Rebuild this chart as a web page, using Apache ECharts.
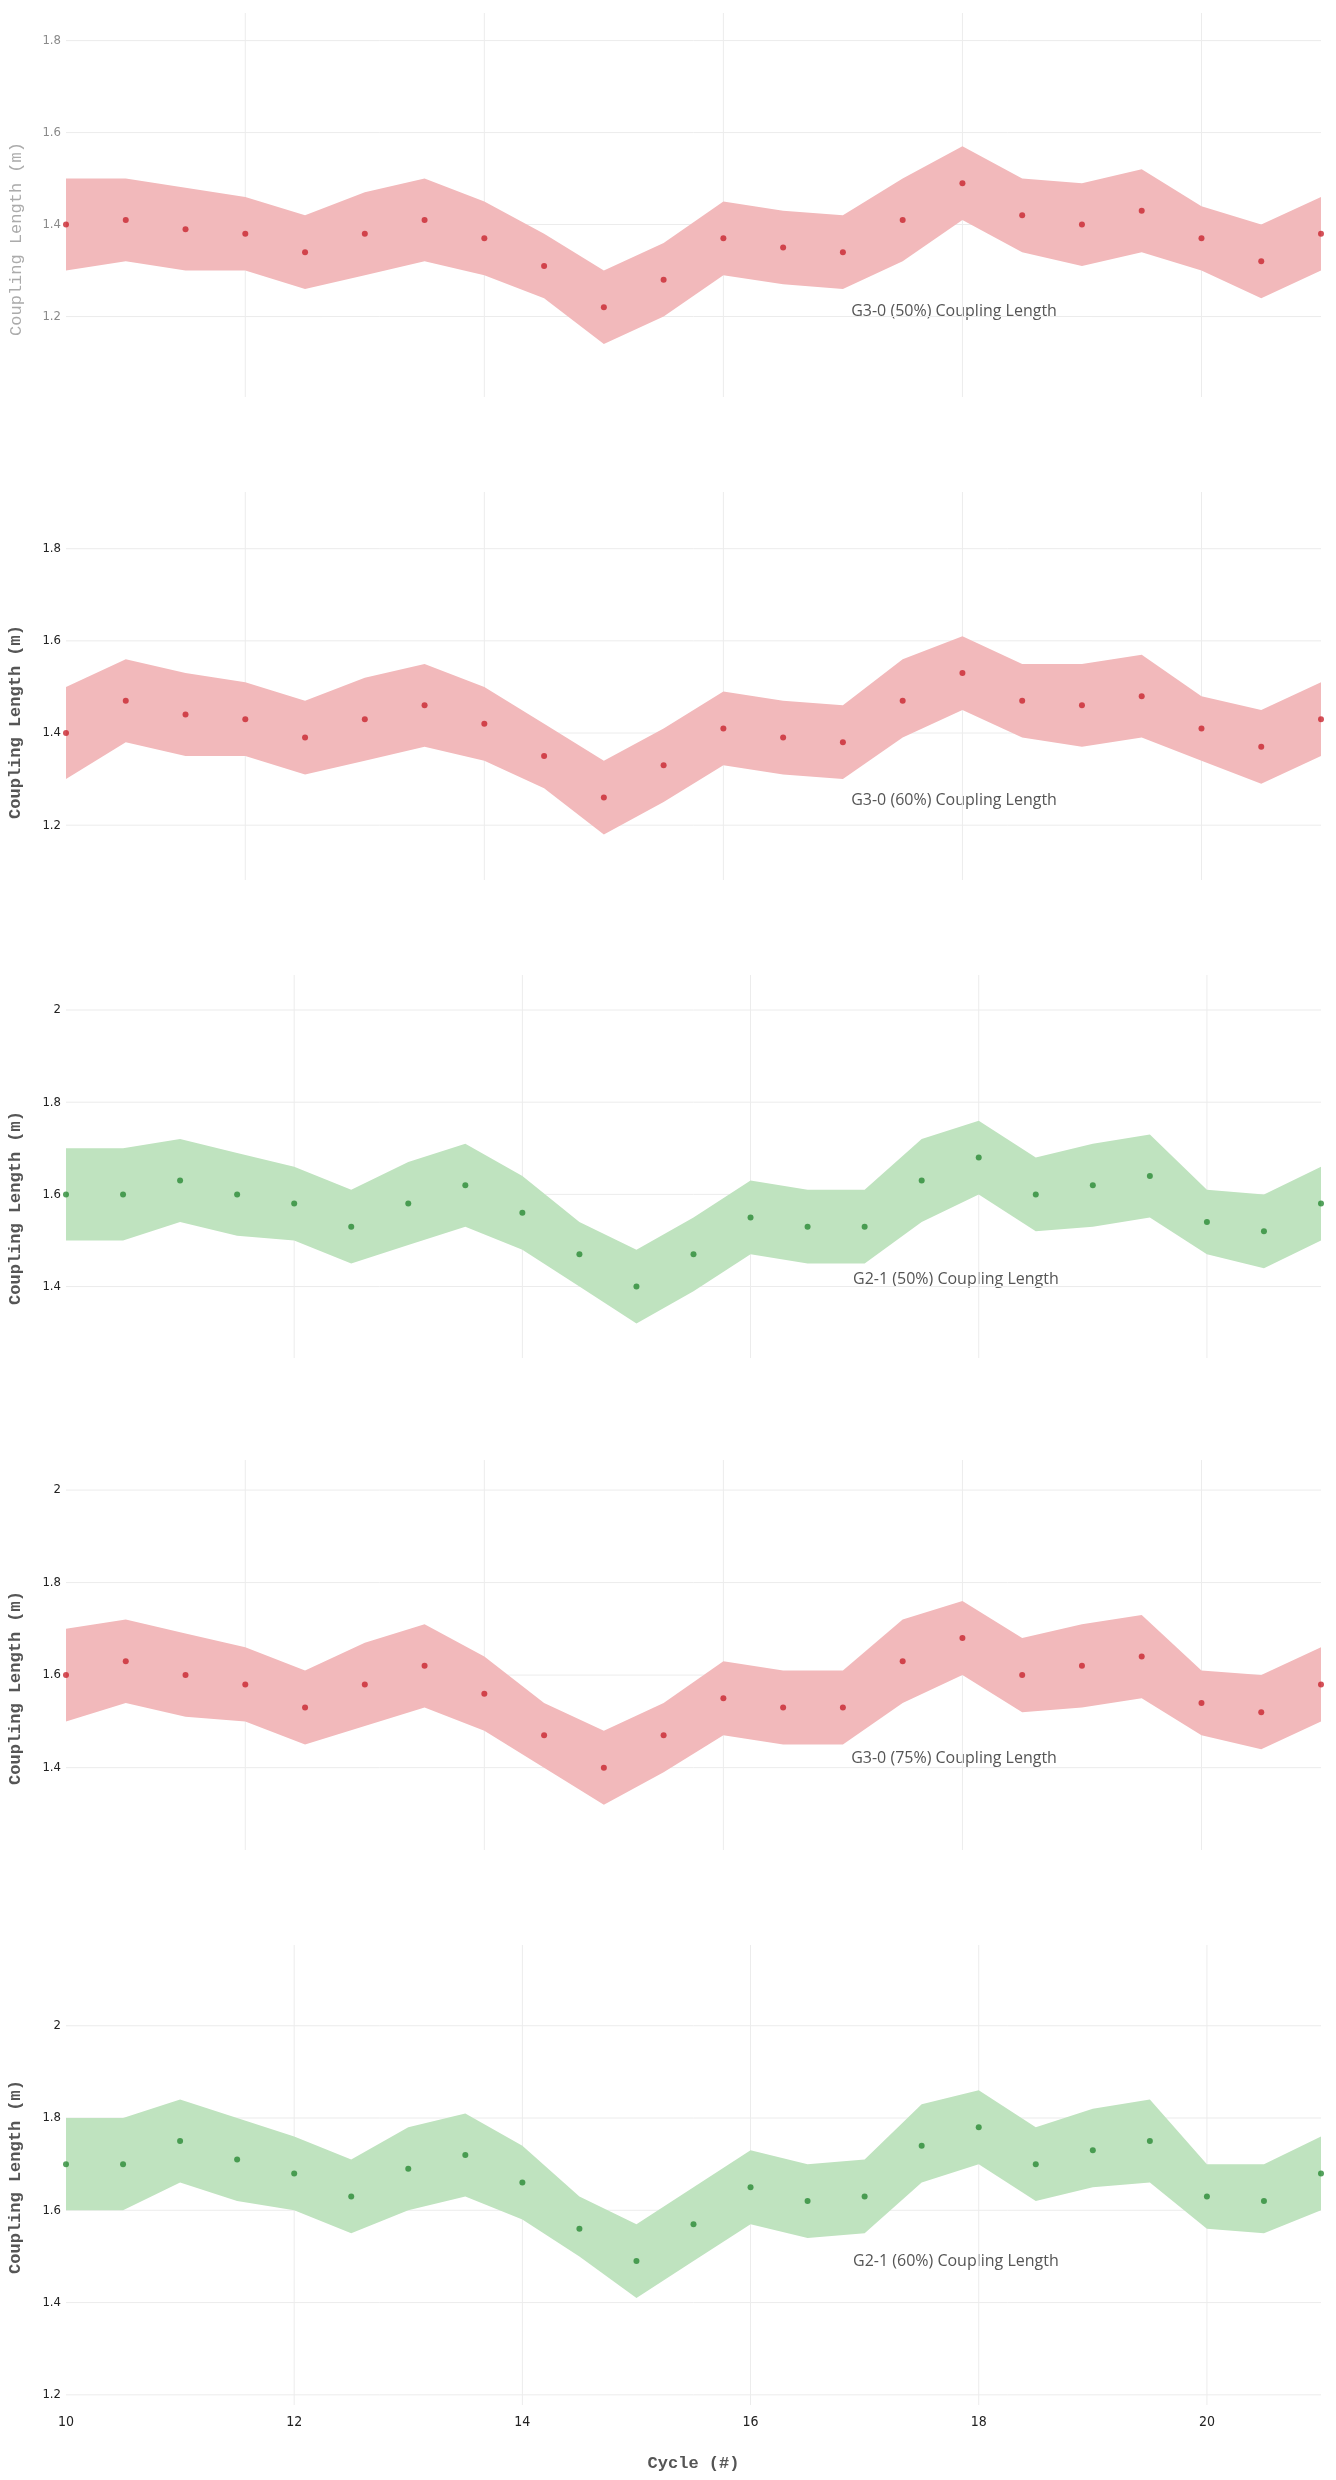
<!DOCTYPE html>
<html><head><meta charset="utf-8">
<script src="https://cdn.jsdelivr.net/npm/echarts@6/dist/echarts.min.js"></script>
<style>html,body{margin:0;padding:0;background:#fff}#c{width:1336px;height:2480px}</style>
</head><body><div id="c"></div><script>
// ---- DATA ----
const xRed = [10.5,11,11.5,12,12.5,13,13.5,14,14.5,15,15.5,16,16.5,17,17.5,18,18.5,19,19.5,20,20.5,21];
const xGreen = [10,10.5,11,11.5,12,12.5,13,13.5,14,14.5,15,15.5,16,16.5,17,17.5,18,18.5,19,19.5,20,20.5,21];

const g30_50_mean  = [1.40,1.41,1.39,1.38,1.34,1.38,1.41,1.37,1.31,1.22,1.28,1.37,1.35,1.34,1.41,1.49,1.42,1.40,1.43,1.37,1.32,1.38];
const g30_50_upper = [1.50,1.50,1.48,1.46,1.42,1.47,1.50,1.45,1.38,1.30,1.36,1.45,1.43,1.42,1.50,1.57,1.50,1.49,1.52,1.44,1.40,1.46];
const g30_50_lower = [1.30,1.32,1.30,1.30,1.26,1.29,1.32,1.29,1.24,1.14,1.20,1.29,1.27,1.26,1.32,1.41,1.34,1.31,1.34,1.30,1.24,1.30];

const g30_60_mean  = [1.40,1.47,1.44,1.43,1.39,1.43,1.46,1.42,1.35,1.26,1.33,1.41,1.39,1.38,1.47,1.53,1.47,1.46,1.48,1.41,1.37,1.43];
const g30_60_upper = [1.50,1.56,1.53,1.51,1.47,1.52,1.55,1.50,1.42,1.34,1.41,1.49,1.47,1.46,1.56,1.61,1.55,1.55,1.57,1.48,1.45,1.51];
const g30_60_lower = [1.30,1.38,1.35,1.35,1.31,1.34,1.37,1.34,1.28,1.18,1.25,1.33,1.31,1.30,1.39,1.45,1.39,1.37,1.39,1.34,1.29,1.35];

const g21_50_mean  = [1.60,1.60,1.63,1.60,1.58,1.53,1.58,1.62,1.56,1.47,1.40,1.47,1.55,1.53,1.53,1.63,1.68,1.60,1.62,1.64,1.54,1.52,1.58];
const g21_50_upper = [1.70,1.70,1.72,1.69,1.66,1.61,1.67,1.71,1.64,1.54,1.48,1.55,1.63,1.61,1.61,1.72,1.76,1.68,1.71,1.73,1.61,1.60,1.66];
const g21_50_lower = [1.50,1.50,1.54,1.51,1.50,1.45,1.49,1.53,1.48,1.40,1.32,1.39,1.47,1.45,1.45,1.54,1.60,1.52,1.53,1.55,1.47,1.44,1.50];

const g30_75_mean  = [1.60,1.63,1.60,1.58,1.53,1.58,1.62,1.56,1.47,1.40,1.47,1.55,1.53,1.53,1.63,1.68,1.60,1.62,1.64,1.54,1.52,1.58];
const g30_75_upper = [1.70,1.72,1.69,1.66,1.61,1.67,1.71,1.64,1.54,1.48,1.54,1.63,1.61,1.61,1.72,1.76,1.68,1.71,1.73,1.61,1.60,1.66];
const g30_75_lower = [1.50,1.54,1.51,1.50,1.45,1.49,1.53,1.48,1.40,1.32,1.39,1.47,1.45,1.45,1.54,1.60,1.52,1.53,1.55,1.47,1.44,1.50];

const g21_60_mean  = [1.70,1.70,1.75,1.71,1.68,1.63,1.69,1.72,1.66,1.56,1.49,1.57,1.65,1.62,1.63,1.74,1.78,1.70,1.73,1.75,1.63,1.62,1.68];
const g21_60_upper = [1.80,1.80,1.84,1.80,1.76,1.71,1.78,1.81,1.74,1.63,1.57,1.65,1.73,1.70,1.71,1.83,1.86,1.78,1.82,1.84,1.70,1.70,1.76];
const g21_60_lower = [1.60,1.60,1.66,1.62,1.60,1.55,1.60,1.63,1.58,1.50,1.41,1.49,1.57,1.54,1.55,1.66,1.70,1.62,1.65,1.66,1.56,1.55,1.60];

const panelLabels = ['G3-0 (50%) Coupling Length','G3-0 (60%) Coupling Length','G2-1 (50%) Coupling Length','G3-0 (75%) Coupling Length','G2-1 (60%) Coupling Length'];
const xTicks = [12,14,16,18,20];
const yTicksA = [1.2,1.4,1.6,1.8];
const yTicksB = [1.4,1.6,1.8,2];
const yTicksC = [1.2,1.4,1.6,1.8,2];
const yTitle = 'Coupling Length (m)';
const xTitle = 'Cycle (#)';

// ---- LAYOUT / STYLE ----
const RED = {band:'#f2b9bb', dot:'#c8262f'};
const GREEN = {band:'#bfe3bf', dot:'#2b8a36'};
const panels = [
  {x:xRed, m:g30_50_mean, u:g30_50_upper, l:g30_50_lower, col:RED, top:13, h:384, ymin:1.025, ymax:1.86, xmin:10.5, yt:yTicksA, ann:[17.93,1.21], titleY:239, faint:true},
  {x:xRed, m:g30_60_mean, u:g30_60_upper, l:g30_60_lower, col:RED, top:492, h:388, ymin:1.081, ymax:1.923, xmin:10.5, yt:yTicksA, ann:[17.93,1.254], titleY:722},
  {x:xGreen, m:g21_50_mean, u:g21_50_upper, l:g21_50_lower, col:GREEN, top:975, h:383, ymin:1.245, ymax:2.076, xmin:10, yt:yTicksB, ann:[17.8,1.415], titleY:1208},
  {x:xRed, m:g30_75_mean, u:g30_75_upper, l:g30_75_lower, col:RED, top:1460, h:390, ymin:1.222, ymax:2.065, xmin:10.5, yt:yTicksB, ann:[17.93,1.42], titleY:1688},
  {x:xGreen, m:g21_60_mean, u:g21_60_upper, l:g21_60_lower, col:GREEN, top:1945, h:460, ymin:1.178, ymax:2.175, xmin:10, yt:yTicksC, ann:[17.8,1.49], titleY:2177, last:true}
];
const XMAX = 21;
const narrow = '"Liberation Sans Narrow","DejaVu Sans Condensed","Roboto","Liberation Sans",sans-serif';
const mono = '"Liberation Mono","DejaVu Sans Mono",monospace';

const grids = [], xAxes = [], yAxes = [], series = [];
panels.forEach((p, i) => {
  grids.push({left:66, right:15, top:p.top, height:p.h, containLabel:false});
  xAxes.push({
    type:'value', gridIndex:i, min:p.xmin, max:XMAX,
    axisLine:{show:false}, axisTick:{show:false}, splitLine:{show:false},
    axisLabel:{show:!!p.last, showMaxLabel:false, color:'#222', fontSize:14, fontFamily:narrow, margin:10},
    name: p.last ? xTitle : '', nameLocation:'middle', nameGap:50,
    nameTextStyle:{fontFamily:mono, fontSize:17, color:'#555', fontWeight:'bold'}
  });
  yAxes.push({
    type:'value', gridIndex:i, min:p.ymin, max:p.ymax,
    axisLine:{show:false}, axisTick:{show:false}, splitLine:{show:false},
    axisLabel:{showMinLabel:false, showMaxLabel:false, color: p.faint ? '#8a8a8a' : '#222', fontSize:13, fontFamily:narrow, margin:5}
  });
  // gridlines
  series.push({
    type:'custom', xAxisIndex:i, yAxisIndex:i, z:1, silent:true,
    data:[[p.xmin, p.ymin]], encode:{x:0, y:1},
    renderItem: function(params, api){
      const kids = [];
      p.yt.forEach(v => {
        const a = api.coord([p.xmin, v]), b = api.coord([XMAX, v]);
        kids.push({type:'line', shape:{x1:a[0], y1:a[1], x2:b[0], y2:b[1]}, style:{stroke:'#ececec', lineWidth:1}});
      });
      xTicks.forEach(v => {
        const a = api.coord([v, p.ymin]), b = api.coord([v, p.ymax]);
        kids.push({type:'line', shape:{x1:a[0], y1:a[1], x2:b[0], y2:b[1]}, style:{stroke:'#ececec', lineWidth:1}});
      });
      return {type:'group', children:kids};
    }
  });
  // band
  series.push({
    type:'custom', xAxisIndex:i, yAxisIndex:i, z:2, silent:true,
    data:[[p.x[0], p.l[0]]], encode:{x:0, y:1},
    renderItem: function(params, api){
      const pts = [];
      for (let k = 0; k < p.x.length; k++) pts.push(api.coord([p.x[k], p.u[k]]));
      for (let k = p.x.length - 1; k >= 0; k--) pts.push(api.coord([p.x[k], p.l[k]]));
      return {type:'polygon', shape:{points:pts}, style:{fill:p.col.band}};
    }
  });
  // points
  series.push({
    type:'scatter', xAxisIndex:i, yAxisIndex:i, z:3, silent:true,
    symbolSize:6, itemStyle:{color:p.col.dot},
    data: p.x.map((xv, k) => [xv, p.m[k]])
  });
});

const chart = echarts.init(document.getElementById('c'), null, {renderer:'canvas'});
chart.setOption({animation:false, backgroundColor:'#fff', grid:grids, xAxis:xAxes, yAxis:yAxes, series:series});

const graphics = [];
panels.forEach((p, i) => {
  const pt = chart.convertToPixel({gridIndex:i}, p.ann);
  graphics.push({type:'text', x:pt[0], y:pt[1], silent:true,
    style:{text:panelLabels[i], fill:'#555', font:'16px "Open Sans", "Noto Sans", sans-serif', align:'center', verticalAlign:'middle'}});
  graphics.push({type:'text', x:16, y:p.titleY, rotation:Math.PI/2, silent:true,
    style:{text:yTitle, fill: p.faint ? '#ababab' : '#555', font:(p.faint ? 'normal ' : 'bold ') + '17px ' + mono, align:'center', verticalAlign:'middle'}});
});
chart.setOption({graphic:graphics});
</script></body></html>
